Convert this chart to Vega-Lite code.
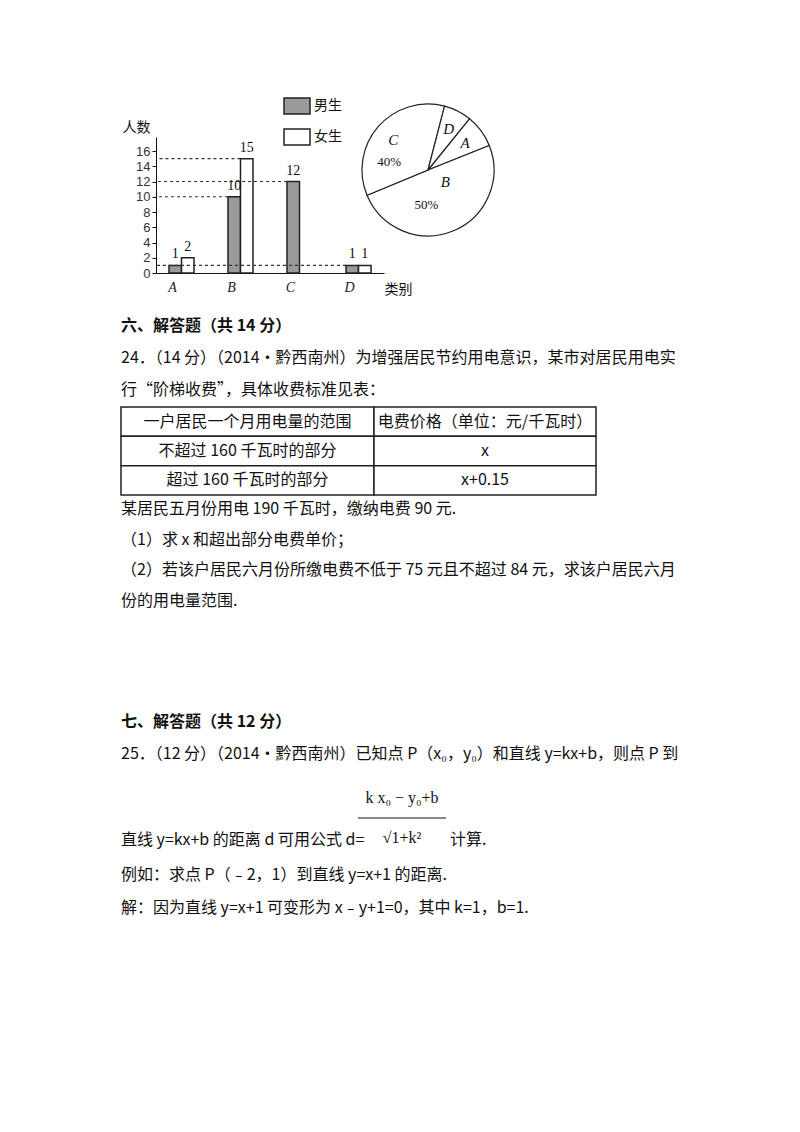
{
  "$schema": "https://vega.github.io/schema/vega-lite/v6.json",
  "background": "white",
  "padding": {"left": 120, "top": 0, "right": 0, "bottom": 0},
  "spacing": 0,
  "config": {
    "view": {"stroke": null},
    "font": "Noto Sans CJK SC",
    "text": {"font": "Noto Sans CJK SC", "fontSize": 16, "color": "#111"},
    "axisY": {
      "labelOverlap": false,
      "grid": false,
      "titleAngle": 0,
      "titleX": -20,
      "titleY": 127,
      "titleAlign": "center",
      "titleBaseline": "middle",
      "titleFontSize": 14,
      "titleFontWeight": "normal",
      "titleColor": "#111",
      "labelFont": "Liberation Sans",
      "labelFontSize": 13,
      "labelColor": "#333",
      "labelPadding": 2,
      "tickSize": 4,
      "tickColor": "#111",
      "domainColor": "#111"
    },
    "axisX": {
      "titleX": 242,
      "titleY": 16,
      "titleAlign": "center",
      "titleBaseline": "middle",
      "titleFontSize": 14,
      "titleFontWeight": "normal",
      "titleColor": "#111",
      "labelFont": "Liberation Serif",
      "labelFontStyle": "italic",
      "labelFontSize": 14,
      "labelAngle": 0,
      "labelOffset": -9,
      "labelPadding": 7,
      "labelColor": "#222",
      "ticks": false,
      "domainColor": "#111",
      "offset": -37
    }
  },
  "datasets": {
    "bars": [
      {"类别": "A", "性别": "男生", "人数": 1},
      {"类别": "A", "性别": "女生", "人数": 2},
      {"类别": "B", "性别": "男生", "人数": 10},
      {"类别": "B", "性别": "女生", "人数": 15},
      {"类别": "C", "性别": "男生", "人数": 12},
      {"类别": "D", "性别": "男生", "人数": 1},
      {"类别": "D", "性别": "女生", "人数": 1}
    ],
    "pie": [
      {"类别": "A", "占比": 8.1, "标注": ""},
      {"类别": "B", "占比": 49.8, "标注": "50%"},
      {"类别": "C", "占比": 35.3, "标注": "40%"},
      {"类别": "D", "占比": 6.8, "标注": ""}
    ],
    "q24": [
      {"行": 1, "类型": "标题", "内容": "六、解答题（共 14 分）"},
      {"行": 2, "类型": "正文", "内容": "24．（14 分）（2014•黔西南州）为增强居民节约用电意识，某市对居民用电实"},
      {"行": 3, "类型": "正文", "内容": "行“阶梯收费”，具体收费标准见表："}
    ],
    "table": [
      {"行": 1, "范围": "一户居民一个月用电量的范围", "价格": "电费价格（单位：元/千瓦时）"},
      {"行": 2, "范围": "不超过 160 千瓦时的部分", "价格": "x"},
      {"行": 3, "范围": "超过 160 千瓦时的部分", "价格": "x+0.15"}
    ],
    "q24b": [
      {"行": 1, "内容": "某居民五月份用电 190 千瓦时，缴纳电费 90 元."},
      {"行": 2, "内容": "（1）求 x 和超出部分电费单价；"},
      {"行": 3, "内容": "（2）若该户居民六月份所缴电费不低于 75 元且不超过 84 元，求该户居民六月"},
      {"行": 4, "内容": "份的用电量范围."}
    ],
    "q25": [
      {"行": 1, "类型": "标题", "内容": "七、解答题（共 12 分）"},
      {"行": 2, "类型": "正文", "内容": "25．（12 分）（2014•黔西南州）已知点 P（x₀，y₀）和直线 y=kx+b，则点 P 到"}
    ],
    "formula": [
      {"部分": "分子", "内容": "k x₀ − y₀+b"},
      {"部分": "分数线", "内容": ""},
      {"部分": "分母", "内容": "√1+k²"}
    ],
    "formulaLine": [
      {"位置": "前", "内容": "直线 y=kx+b 的距离 d 可用公式 d="},
      {"位置": "后", "内容": "计算."}
    ],
    "q25b": [
      {"行": 1, "内容": "例如：求点 P（﹣2，1）到直线 y=x+1 的距离."},
      {"行": 2, "内容": "解：因为直线 y=x+1 可变形为 x﹣y+1=0，其中 k=1，b=1."}
    ]
  },
  "vconcat": [
    {
      "spacing": 0,
      "bounds": "flush",
      "hconcat": [
        {"width": 35, "height": 310, "data": {"values": []}, "mark": "point"},
        {
          "width": 206,
          "height": 310,
          "data": {"name": "bars"},
          "layer": [
            {
              "mark": {"type": "bar", "stroke": "#222", "strokeWidth": 1.5},
              "encoding": {
                "x": {
                  "field": "类别",
                  "type": "nominal",
                  "title": "类别",
                  "scale": {"range": [0, 228], "paddingInner": 0.576, "paddingOuter": 0.22}
                },
                "xOffset": {"field": "性别", "type": "nominal", "scale": {"domain": ["男生", "女生"], "paddingInner": 0}},
                "y": {
                  "field": "人数",
                  "type": "quantitative",
                  "title": "人数",
                  "scale": {"domain": [0, 17.84], "range": [273, 137], "nice": false}
                },
                "color": {
                  "field": "性别",
                  "type": "nominal",
                  "scale": {"domain": ["男生", "女生"], "range": ["#9a9a9a", "#ffffff"]},
                  "legend": {
                    "orient": "none",
                    "legendX": 162,
                    "legendY": 92,
                    "title": null,
                    "padding": 0,
                    "symbolType": "M-1,-0.62H1V0.62H-1Z",
                    "symbolSize": 676,
                    "symbolStrokeColor": "#222",
                    "symbolStrokeWidth": 1.5,
                    "labelFontSize": 14,
                    "labelColor": "#111",
                    "labelOffset": 3,
                    "rowPadding": 5
                  }
                }
              }
            },
            {
              "transform": [{"filter": "datum['性别'] === '男生' && datum['类别'] !== 'A'"}],
              "mark": {"type": "rule", "strokeDash": [3, 3], "color": "#333", "strokeWidth": 1.2},
              "encoding": {
                "x": {"field": "类别", "type": "nominal", "title": "类别", "bandPosition": 0},
                "x2": {"value": 0},
                "y": {"field": "人数", "type": "quantitative", "title": "人数"}
              }
            },
            {
              "transform": [{"filter": "datum['性别'] === '女生' && datum['类别'] === 'B'"}],
              "mark": {"type": "rule", "strokeDash": [3, 3], "color": "#333", "strokeWidth": 1.2},
              "encoding": {
                "x": {"field": "类别", "type": "nominal", "title": "类别", "bandPosition": 0.5},
                "x2": {"value": 0},
                "y": {"field": "人数", "type": "quantitative", "title": "人数"}
              }
            },
            {
              "mark": {"type": "text", "font": "Liberation Serif", "fontSize": 14, "baseline": "bottom", "dy": -4, "color": "#111"},
              "encoding": {
                "x": {"field": "类别", "type": "nominal", "title": "类别"},
                "xOffset": {"field": "性别", "type": "nominal"},
                "y": {"field": "人数", "type": "quantitative", "title": "人数"},
                "text": {"field": "人数", "type": "quantitative"}
              }
            }
          ]
        },
        {
          "spacing": 0,
          "bounds": "flush",
          "vconcat": [
            {"width": 132, "height": 104, "data": {"values": []}, "mark": "point"},
            {
              "width": 132,
              "height": 132,
              "data": {"name": "pie"},
              "encoding": {
                "theta": {"field": "占比", "type": "quantitative", "stack": true, "scale": {"range": [0.6807, 6.9639]}},
                "order": {"field": "类别", "type": "nominal"}
              },
              "layer": [
                {"mark": {"type": "arc", "fill": "white", "stroke": "#222", "strokeWidth": 1.2}},
                {
                  "mark": {"type": "text", "radius": 46, "font": "Liberation Serif", "fontStyle": "italic", "fontSize": 15},
                  "encoding": {"text": {"condition": {"test": "datum['类别'] !== 'B'", "field": "类别"}, "value": ""}}
                },
                {
                  "mark": {"type": "text", "radius": 46, "dy": -31, "font": "Liberation Serif", "fontStyle": "italic", "fontSize": 15},
                  "encoding": {"text": {"condition": {"test": "datum['类别'] === 'B'", "field": "类别"}, "value": ""}}
                },
                {
                  "mark": {"type": "text", "radius": 46, "dx": -4, "dy": 22, "font": "Liberation Serif", "fontSize": 13},
                  "encoding": {"text": {"condition": {"test": "datum['类别'] === 'C'", "field": "标注"}, "value": ""}}
                },
                {
                  "mark": {"type": "text", "radius": 46, "dx": -19, "dy": -8, "font": "Liberation Serif", "fontSize": 13},
                  "encoding": {"text": {"condition": {"test": "datum['类别'] === 'B'", "field": "标注"}, "value": ""}}
                }
              ]
            }
          ]
        }
      ]
    },
    {
      "width": 680,
      "height": 96,
      "data": {"name": "q24"},
      "encoding": {
        "x": {"value": 0},
        "y": {"field": "行", "type": "ordinal", "axis": null},
        "text": {"field": "内容"}
      },
      "layer": [
        {"transform": [{"filter": "datum['类型'] === '标题'"}], "mark": {"type": "text", "align": "left", "fontWeight": "bold"}},
        {"transform": [{"filter": "datum['类型'] === '正文'"}], "mark": {"type": "text", "align": "left"}}
      ]
    },
    {
      "spacing": 0,
      "bounds": "flush",
      "hconcat": [
        {
          "width": 253,
          "height": 88,
          "data": {"name": "table"},
          "encoding": {"y": {"field": "行", "type": "ordinal", "axis": null, "scale": {"type": "band", "paddingInner": 0, "paddingOuter": 0}}},
          "layer": [
            {"mark": {"type": "bar", "fill": "white", "stroke": "#222", "strokeWidth": 1.5}},
            {"mark": {"type": "text"}, "encoding": {"text": {"field": "范围"}}}
          ]
        },
        {
          "width": 222,
          "height": 88,
          "data": {"name": "table"},
          "encoding": {"y": {"field": "行", "type": "ordinal", "axis": null, "scale": {"type": "band", "paddingInner": 0, "paddingOuter": 0}}},
          "layer": [
            {"mark": {"type": "bar", "fill": "white", "stroke": "#222", "strokeWidth": 1.5}},
            {"mark": {"type": "text"}, "encoding": {"text": {"field": "价格"}}}
          ]
        }
      ]
    },
    {
      "width": 680,
      "height": 118,
      "data": {"name": "q24b"},
      "mark": {"type": "text", "align": "left"},
      "encoding": {
        "x": {"value": 0},
        "y": {"field": "行", "type": "ordinal", "axis": null, "scale": {"type": "point", "padding": 0.43}},
        "text": {"field": "内容"}
      }
    },
    {"width": 680, "height": 84, "data": {"values": []}, "mark": "point"},
    {
      "width": 680,
      "height": 80,
      "data": {"name": "q25"},
      "encoding": {
        "x": {"value": 0},
        "y": {"field": "行", "type": "ordinal", "axis": null, "scale": {"type": "point", "padding": 0.75}},
        "text": {"field": "内容"}
      },
      "layer": [
        {"transform": [{"filter": "datum['类型'] === '标题'"}], "mark": {"type": "text", "align": "left", "fontWeight": "bold"}},
        {"transform": [{"filter": "datum['类型'] === '正文'"}], "mark": {"type": "text", "align": "left"}}
      ]
    },
    {
      "spacing": 0,
      "bounds": "flush",
      "hconcat": [
        {
          "width": 237,
          "height": 80,
          "data": {"name": "formulaLine"},
          "transform": [{"filter": "datum['位置'] === '前'"}],
          "mark": {"type": "text", "align": "left", "dy": 22},
          "encoding": {"x": {"value": 0}, "text": {"field": "内容"}}
        },
        {
          "width": 88,
          "height": 80,
          "data": {"name": "formula"},
          "encoding": {
            "y": {"field": "部分", "type": "ordinal", "sort": ["分子", "分数线", "分母"], "axis": null, "scale": {"type": "point", "padding": 1.5}}
          },
          "layer": [
            {
              "transform": [{"filter": "datum['部分'] === '分数线'"}],
              "mark": {"type": "rule", "color": "#888", "strokeWidth": 2}
            },
            {
              "transform": [{"filter": "datum['部分'] !== '分数线'"}],
              "mark": {"type": "text", "font": "Liberation Serif", "fontSize": 16},
              "encoding": {"text": {"field": "内容"}}
            }
          ]
        },
        {
          "width": 120,
          "height": 80,
          "data": {"name": "formulaLine"},
          "transform": [{"filter": "datum['位置'] === '后'"}],
          "mark": {"type": "text", "align": "left", "dx": 4, "dy": 22},
          "encoding": {"x": {"value": 0}, "text": {"field": "内容"}}
        }
      ]
    },
    {
      "width": 680,
      "height": 66,
      "data": {"name": "q25b"},
      "mark": {"type": "text", "align": "left"},
      "encoding": {
        "x": {"value": 0},
        "y": {"field": "行", "type": "ordinal", "axis": null},
        "text": {"field": "内容"}
      }
    }
  ]
}
